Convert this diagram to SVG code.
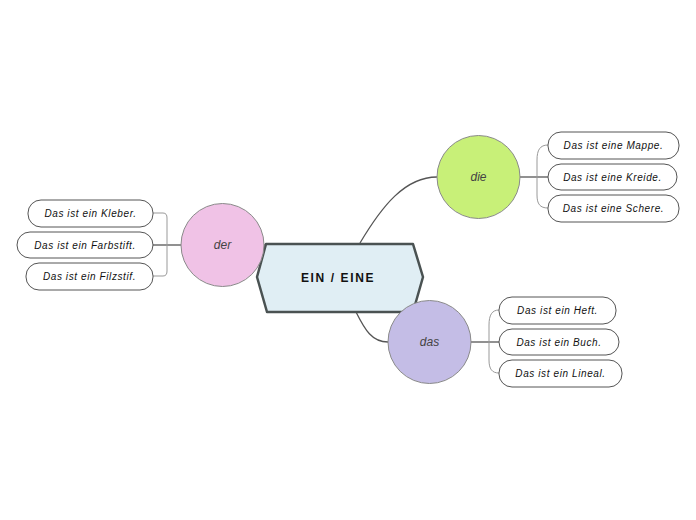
<svg xmlns="http://www.w3.org/2000/svg" width="696" height="520" viewBox="0 0 696 520">
<style>
.leaf rect{fill:#fff;stroke:#555;stroke-width:1}
.leaf text{font-family:"Liberation Sans",Arial,sans-serif;font-style:italic;font-size:10px;fill:#111;text-anchor:middle;letter-spacing:0.6px}
.topic circle{stroke:#8a8a8a;stroke-width:1}
.topic text{font-family:"Liberation Sans",Arial,sans-serif;font-style:italic;font-size:12px;fill:#444;text-anchor:middle}
.conn path{fill:none;stroke:#555;stroke-width:1.3}
.brace path{fill:none;stroke:#999;stroke-width:1}
</style>
<rect width="696" height="520" fill="#fff"/>
<g id="connectors" class="conn">
<path d="M360,243 C382,206 405,177 437,177"/>
<path d="M356,312 C365,330 372,342 388,342"/>
<path d="M264,245 L268,245"/>
<path d="M520,177 L548,177"/>
<path d="M471,342 L499,342"/>
<path d="M153,245 L181,245"/>
</g>
<g id="braces" class="brace">
<path d="M548,145 C540,145 537,150 537,160 L537,195 C537,204 540,208 548,208"/>
<path d="M499,310 C492,310 489,315 489,325 L489,360 C489,369 492,373 499,373"/>
<path d="M153,213 L163,213 C166,213 167,215 167,218 L167,271 C167,274 166,276 163,276 L153,276"/>
</g>
<g id="center">
<polygon points="266,244 413,244 423,277 413,312 267,312 257,277" fill="#e0eef4" stroke="#4a5252" stroke-width="2.5" stroke-linejoin="round"/>
<text x="338" y="282" font-family="Liberation Sans,Arial,sans-serif" font-weight="bold" font-size="12" letter-spacing="1.6" text-anchor="middle" fill="#111">EIN / EINE</text>
</g>
<g id="der" class="topic"><circle cx="222.5" cy="245" r="41.5" fill="#f0c2e6"/><text x="222.5" y="249">der</text></g>
<g id="die" class="topic"><circle cx="478.5" cy="177" r="41.5" fill="#c8f078"/><text x="478.5" y="181">die</text></g>
<g id="das" class="topic"><circle cx="429.5" cy="342" r="41.5" fill="#c4bde6"/><text x="429.5" y="346">das</text></g>
<g id="mappe" class="leaf"><rect x="548" y="132" width="131" height="27" rx="13"/><text x="613.5" y="149">Das ist eine Mappe.</text></g>
<g id="kreide" class="leaf"><rect x="548" y="164" width="129" height="26" rx="13"/><text x="612.5" y="180.5">Das ist eine Kreide.</text></g>
<g id="schere" class="leaf"><rect x="548" y="195" width="131" height="27" rx="13"/><text x="613.5" y="212">Das ist eine Schere.</text></g>
<g id="heft" class="leaf"><rect x="499" y="297" width="117" height="27" rx="13"/><text x="557.5" y="314">Das ist ein Heft.</text></g>
<g id="buch" class="leaf"><rect x="499" y="329" width="120" height="26" rx="13"/><text x="559" y="345.5">Das ist ein Buch.</text></g>
<g id="lineal" class="leaf"><rect x="499" y="360" width="123" height="27" rx="13"/><text x="560.5" y="377">Das ist ein Lineal.</text></g>
<g id="kleber" class="leaf"><rect x="28" y="200" width="125" height="27" rx="13"/><text x="90.5" y="217">Das ist ein Kleber.</text></g>
<g id="farbstift" class="leaf"><rect x="17" y="232" width="136" height="26" rx="13"/><text x="85" y="248.5">Das ist ein Farbstift.</text></g>
<g id="filzstif" class="leaf"><rect x="26" y="263" width="127" height="27" rx="13"/><text x="89.5" y="280">Das ist ein Filzstif.</text></g>
</svg>
